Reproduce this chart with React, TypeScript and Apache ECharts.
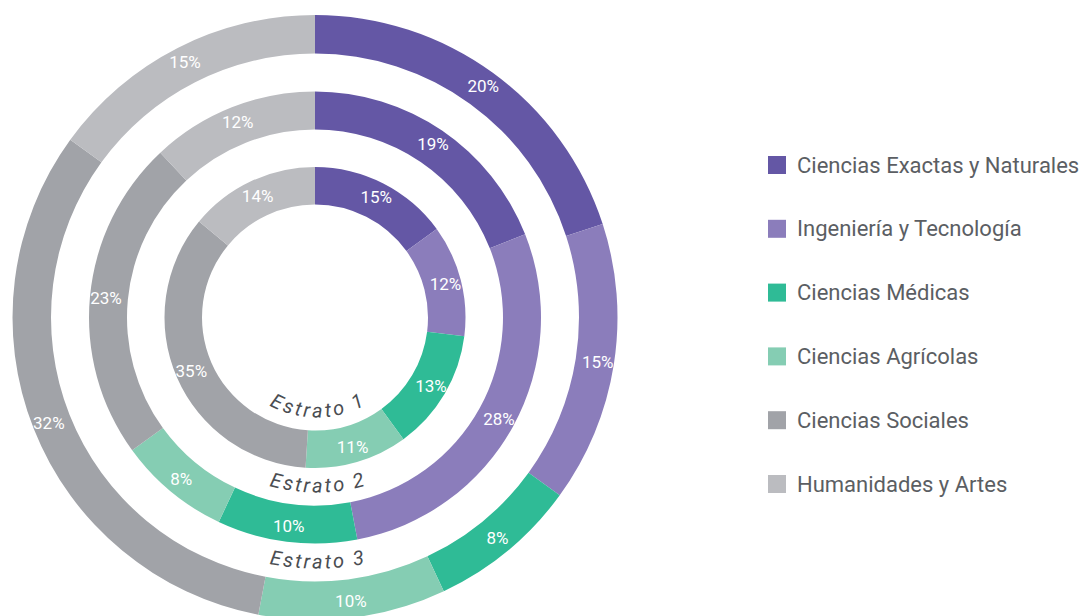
import React, { useEffect, useRef } from "react";
import * as echarts from "echarts";

const categories = [
  "Ciencias Exactas y Naturales",
  "Ingeniería y Tecnología",
  "Ciencias Médicas",
  "Ciencias Agrícolas",
  "Ciencias Sociales",
  "Humanidades y Artes",
];
const estrato1 = [15, 12, 13, 11, 35, 14];
const estrato2 = [19, 28, 10, 8, 23, 12];
const estrato3 = [20, 15, 8, 10, 32, 15];
const ringNames = ["Estrato 1", "Estrato 2", "Estrato 3"];
const ringValues = [estrato1, estrato2, estrato3];

const colors = ["#6457a5", "#8b7dbb", "#2fbb96", "#85cdb3", "#a1a3a8", "#bbbcc0"];

const CX = 315;
const CY = 317.5;
const RADII: [number, number][] = [
  [113, 150.5],
  [188, 226],
  [264, 302.5],
];

const FONT = "Roboto, 'Noto Sans', sans-serif";

function arcText(label: string, r: number, fontSize: number, color: string) {
  const canvas = document.createElement("canvas");
  const ctx = canvas.getContext("2d")!;
  ctx.font = `italic ${fontSize}px Roboto`;
  const spacing = 2;
  const widths = Array.from(label).map((ch) => ctx.measureText(ch).width + spacing);
  const total = widths.reduce((a, b) => a + b, 0);
  const els: any[] = [];
  let acc = 0;
  Array.from(label).forEach((ch, i) => {
    const sMid = acc + widths[i] / 2;
    acc += widths[i];
    const theta = Math.PI / 2 + (total / 2 - sMid) / r;
    els.push({
      type: "text",
      x: CX + 2 + r * Math.cos(theta),
      y: CY + r * Math.sin(theta),
      rotation: Math.PI / 2 - theta,
      silent: true,
      style: {
        text: ch,
        x: 0,
        y: 0,
        align: "center",
        verticalAlign: "middle",
        fontSize,
        fontStyle: "italic",
        fontFamily: FONT,
        fill: color,
      },
    });
  });
  return els;
}

export default function App() {
  const ref = useRef<HTMLDivElement>(null);
  useEffect(() => {
    if (!ref.current) return;
    const chart = echarts.init(ref.current, undefined, { renderer: "svg" });
    const series = ringValues.map((vals, k) => ({
      type: "pie",
      name: ringNames[k],
      center: [CX, CY],
      radius: RADII[k],
      startAngle: 90,
      clockwise: true,
      avoidLabelOverlap: false,
      emphasis: { disabled: true },
      silent: true,
      label: {
        show: true,
        position: "inside",
        formatter: "{c}%",
        color: "#ffffff",
        fontSize: 17,
        fontFamily: FONT,
      },
      labelLine: { show: false },
      itemStyle: { borderWidth: 0 },
      data: categories.map((c, i) => ({
        name: c,
        value: vals[i],
        itemStyle: { color: colors[i] },
      })),
    }));
    const graphics: any[] = [];
    ringNames.forEach((n, k) => {
      graphics.push(...arcText(n, RADII[k][0] - 20, 20, "#4a4d52"));
    });
    chart.setOption({
      animation: false,
      color: colors,
      legend: {
        orient: "vertical",
        left: 768,
        top: 154,
        padding: 0,
        itemWidth: 18,
        itemHeight: 18,
        itemGap: 41.8,
        icon: "rect",
        selectedMode: false,
        data: categories,
        textStyle: {
          fontSize: 22,
          lineHeight: 18,
          color: "#5b5e63",
          fontFamily: FONT,
          padding: [0, 0, 0, 6],
        },
      },
      graphic: graphics,
      series,
    });
    return () => chart.dispose();
  }, []);
  return (
    <div
      ref={ref}
      style={{ position: "absolute", left: 0, top: 0, width: 1083, height: 616 }}
    />
  );
}
